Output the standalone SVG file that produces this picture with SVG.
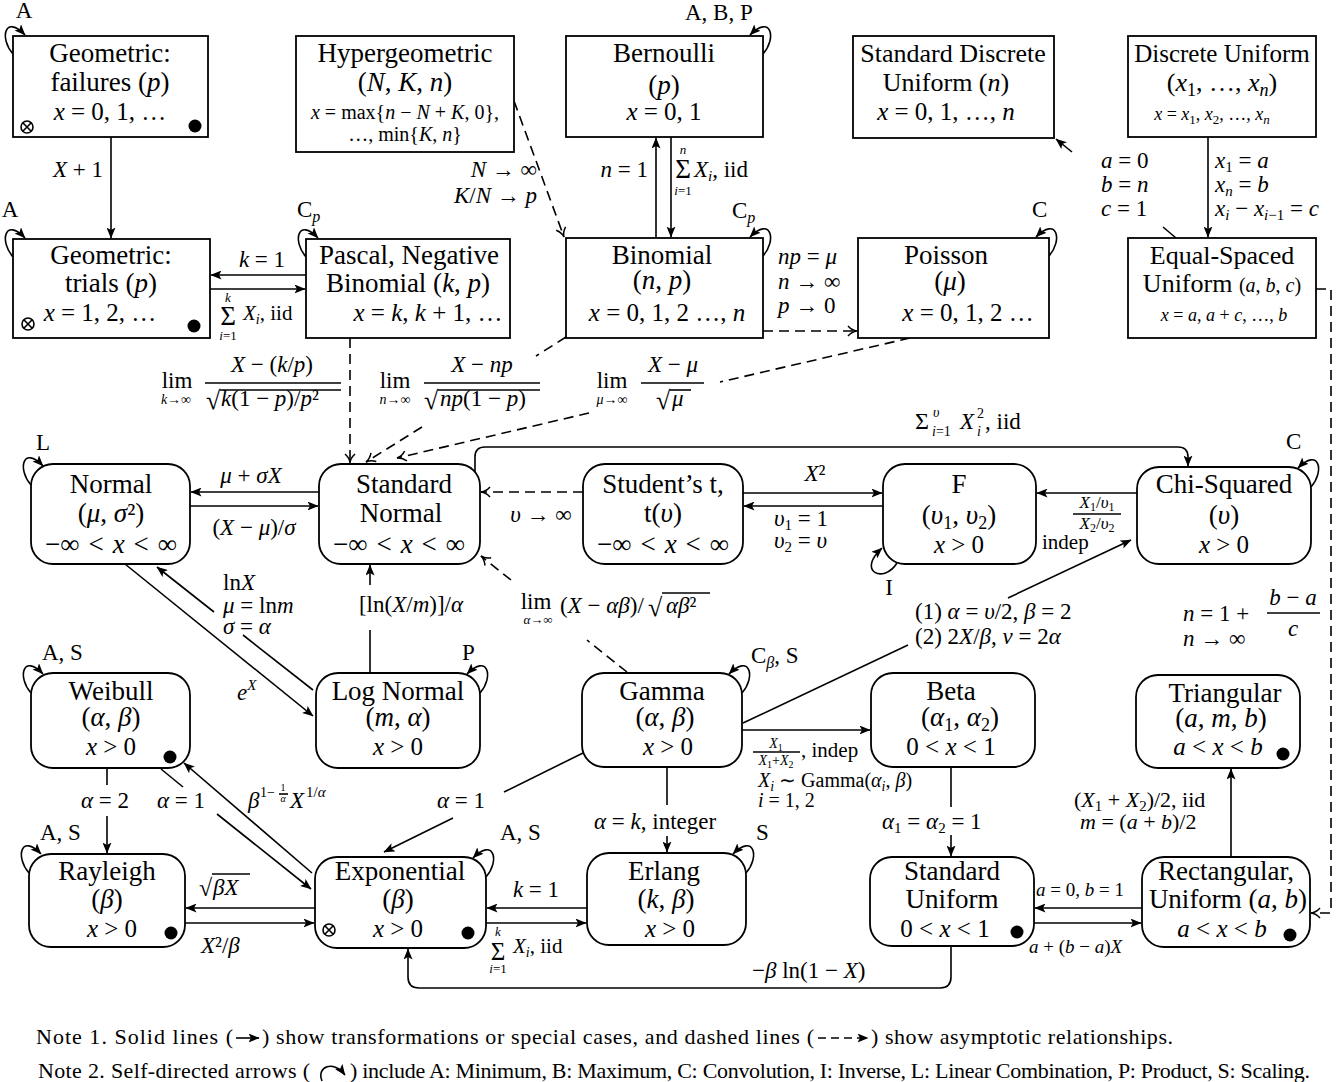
<svg xmlns="http://www.w3.org/2000/svg" width="1344" height="1082" viewBox="0 0 1344 1082">
<defs>
<style>
text{font-family:'Liberation Serif','Times New Roman',serif;fill:#000}
.t{font-size:27px;text-anchor:middle}
.t26{font-size:26px;text-anchor:middle}
.m{font-size:25px;text-anchor:middle}
.s{font-size:18px;text-anchor:middle}
.e{font-size:23px}
.c{text-anchor:middle}
.r{text-anchor:end}
.i{font-style:italic}
.n{font-size:22px}
.box{fill:#fff;stroke:#000;stroke-width:1.8}
.ln{fill:none;stroke:#000;stroke-width:1.6}
.ds{stroke-dasharray:10 6}
.a{marker-end:url(#ah)}
.o{marker-end:url(#oh)}
</style>
<marker id="ah" viewBox="0 0 11 9" markerWidth="11" markerHeight="9" refX="10.5" refY="4.5" orient="auto" markerUnits="userSpaceOnUse"><path d="M0,0 L11,4.5 L0,9 L2.5,4.5 Z" fill="#000"/></marker>
<marker id="oh" viewBox="-1 -1 12 12" markerWidth="12" markerHeight="12" refX="9" refY="5" orient="auto" markerUnits="userSpaceOnUse"><path d="M0,0 Q4,4.5 9,5 Q4,5.5 0,10" fill="none" stroke="#000" stroke-width="1.5"/></marker>
<g id="ot"><circle r="6" fill="none" stroke="#000" stroke-width="1.6"/><path d="M-4.2,-4.2 L4.2,4.2 M-4.2,4.2 L4.2,-4.2" stroke="#000" stroke-width="1.6"/></g>
<circle id="dot" r="6.5" fill="#000"/>
<path id="lTL" d="M0,18 C-14,2 -8,-22 12,-1" fill="none" stroke="#000" stroke-width="1.6" marker-end="url(#ah)"/>
<path id="lTR" d="M0,18 C14,2 8,-22 -13,-1" fill="none" stroke="#000" stroke-width="1.6" marker-end="url(#ah)"/>
</defs>
<rect width="1344" height="1082" fill="#fff"/>

<g id="connectors">
<path class="ln a" d="M111,137 V238"/>
<path class="ln ds o" d="M514,101 L564,237"/>
<path class="ln a" d="M306,275 H211"/>
<path class="ln a" d="M210,289 H305"/>
<path class="ln a" d="M656,238 V138"/>
<path class="ln a" d="M671,137 V237"/>
<path class="ln ds o" d="M763,331 H857"/>
<path class="ln a" d="M1208,137 V237"/>
<path class="ln" d="M1176,238 L1163,227"/>
<path class="ln a" d="M1072,152 L1056,139"/>
<path class="ln ds o" d="M1316,289 H1331 V913 H1311"/>
<path class="ln ds o" d="M350,338 V463"/>
<path class="ln ds" d="M566,337 L536,356"/>
<path class="ln ds o" d="M422,427 L366,462"/>
<path class="ln ds" d="M910,338 L720,382"/>
<path class="ln ds o" d="M589,413 L397,458"/>
<path class="ln a" d="M319,492 H191"/>
<path class="ln a" d="M190,506 H318"/>
<path class="ln ds o" d="M583,492 H481"/>
<path class="ln a" d="M743,493 H882"/>
<path class="ln a" d="M883,506 H744"/>
<path class="ln a" d="M1137,493 H1037"/>
<path class="ln a" d="M475,472 V457 Q475,447 485,447 H1178 Q1188,447 1188,457 V466"/>
<path class="ln" d="M743,723 L908,645"/>
<path class="ln a" d="M1008,598 L1131,540"/>
<path class="ln a" d="M742,730 H870"/>
<path class="ln ds" d="M627,672 L587,640"/>
<path class="ln ds o" d="M511,580 L481,556"/>
<path class="ln" d="M370,673 V630"/>
<path class="ln a" d="M370,585 V565"/>
<path class="ln a" d="M125,564 L313,716"/>
<path class="ln" d="M313,690 L243,635"/>
<path class="ln a" d="M214,612 L157,567"/>
<path class="ln a" d="M312,873 L184,763"/>
<path class="ln" d="M161,769 L183,787"/>
<path class="ln a" d="M217,814 L311,889"/>
<path class="ln" d="M107,768 V785"/>
<path class="ln a" d="M107,816 V853"/>
<path class="ln a" d="M315,908 H186"/>
<path class="ln a" d="M185,923 H314"/>
<path class="ln" d="M583,753 L504,792"/>
<path class="ln a" d="M453,818 L384,852"/>
<path class="ln" d="M667,767 V805"/>
<path class="ln a" d="M667,836 V852"/>
<path class="ln a" d="M587,908 H487"/>
<path class="ln a" d="M486,923 H586"/>
<path class="ln a" d="M951,946 V977 Q951,988 940,988 H419 Q408,988 408,977 V949"/>
<path class="ln" d="M951,767 V807"/>
<path class="ln a" d="M951,835 V856"/>
<path class="ln a" d="M1142,908 H1035"/>
<path class="ln a" d="M1034,923 H1141"/>
<path class="ln a" d="M1231,857 V769"/>
<use href="#lTL" x="13" y="36"/>
<use href="#lTL" x="13" y="239"/>
<use href="#lTL" x="306" y="239"/>
<use href="#lTL" x="31" y="467"/>
<use href="#lTL" x="31" y="675"/>
<use href="#lTL" x="29" y="855"/>
<use href="#lTR" x="763" y="36"/>
<use href="#lTR" x="763" y="238"/>
<use href="#lTR" x="1049" y="238"/>
<use href="#lTR" x="1311" y="469"/>
<use href="#lTR" x="480" y="675"/>
<use href="#lTR" x="742" y="675"/>
<use href="#lTR" x="486" y="859"/>
<use href="#lTR" x="746" y="855"/>
<path class="ln a" d="M897,563 C884,584 856,572 882,548"/>

<text class="e c" x="24" y="18">A</text>
<text class="e c" x="10" y="217">A</text>
<text class="e" x="297" y="217">C<tspan class="i" font-size="16" dy="5">p</tspan></text>
<text class="e" x="685" y="20">A, B, P</text>
<text class="e" x="732" y="218">C<tspan class="i" font-size="16" dy="5">p</tspan></text>
<text class="e" x="1032" y="217">C</text>
<text class="e" x="1286" y="449">C</text>
<text class="e" x="36" y="450">L</text>
<text class="e" x="42" y="660">A, S</text>
<text class="e" x="40" y="840">A, S</text>
<text class="e" x="462" y="660">P</text>
<text class="e" x="500" y="840">A, S</text>
<text class="e" x="756" y="840">S</text>
<text class="e" x="751" y="663">C<tspan class="i" font-size="16" dy="5">β</tspan><tspan dy="-5">, S</tspan></text>
<text class="e c" x="889" y="595">I</text>

<text class="e c" x="78" y="177"><tspan class="i">X</tspan> + 1</text>
<text class="e r" x="537" y="177"><tspan class="i">N</tspan> → ∞</text>
<text class="e r" x="537" y="203"><tspan class="i">K</tspan>/<tspan class="i">N</tspan> → <tspan class="i">p</tspan></text>
<text class="e c" x="262" y="267"><tspan class="i">k</tspan> = 1</text>
<text class="c" x="228" y="325" font-size="27">Σ</text>
<text class="c i" x="228" y="302" font-size="13">k</text>
<text class="c" x="228" y="340" font-size="13"><tspan class="i">i</tspan>=1</text>
<text x="243" y="320" font-size="21"><tspan class="i">X</tspan><tspan class="i" font-size="14" dy="4">i</tspan><tspan dy="-4">, iid</tspan></text>
<text class="e r" x="648" y="177"><tspan class="i">n</tspan> = 1</text>
<text class="c" x="683" y="178" font-size="27">Σ</text>
<text class="c i" x="683" y="154" font-size="13">n</text>
<text class="c" x="683" y="195" font-size="13"><tspan class="i">i</tspan>=1</text>
<text class="e" x="694" y="177"><tspan class="i">X</tspan><tspan class="i" font-size="15" dy="4">i</tspan><tspan dy="-4">,  iid</tspan></text>
<text class="e" x="778" y="264"><tspan class="i">np</tspan> = <tspan class="i">μ</tspan></text>
<text class="e" x="778" y="289"><tspan class="i">n</tspan> → ∞</text>
<text class="e" x="778" y="313"><tspan class="i">p</tspan> → 0</text>
<text class="e" x="1215" y="168"><tspan class="i">x</tspan><tspan font-size="15" dy="4">1</tspan><tspan dy="-4"> = </tspan><tspan class="i">a</tspan></text>
<text class="e" x="1215" y="192"><tspan class="i">x</tspan><tspan class="i" font-size="15" dy="4">n</tspan><tspan dy="-4"> = </tspan><tspan class="i">b</tspan></text>
<text class="e" x="1215" y="216"><tspan class="i">x</tspan><tspan class="i" font-size="15" dy="4">i</tspan><tspan dy="-4"> − </tspan><tspan class="i">x</tspan><tspan font-size="15" dy="4"><tspan class="i">i</tspan>−1</tspan><tspan dy="-4"> = </tspan><tspan class="i">c</tspan></text>
<text class="e" x="1101" y="168"><tspan class="i">a</tspan> = 0</text>
<text class="e" x="1101" y="192"><tspan class="i">b</tspan> = <tspan class="i">n</tspan></text>
<text class="e" x="1101" y="216"><tspan class="i">c</tspan> = 1</text>

<text class="e c" x="177" y="388">lim</text>
<text class="c" x="176" y="404" font-size="14"><tspan class="i">k</tspan>→∞</text>
<text class="e c" x="272" y="372"><tspan class="i">X</tspan> − (<tspan class="i">k</tspan>/<tspan class="i">p</tspan>)</text>
<path class="ln" d="M205,383 H341" stroke-width="1.3"/>
<text x="206" y="409" font-size="26">√</text>
<path class="ln" d="M220,390 H341" stroke-width="1.2"/>
<text class="e" x="221" y="406"><tspan class="i">k</tspan>(1 − <tspan class="i">p</tspan>)/<tspan class="i">p</tspan>²</text>
<text class="e c" x="395" y="388">lim</text>
<text class="c" x="395" y="404" font-size="14"><tspan class="i">n</tspan>→∞</text>
<text class="e c" x="482" y="372"><tspan class="i">X</tspan> − <tspan class="i">np</tspan></text>
<path class="ln" d="M424,383 H540" stroke-width="1.3"/>
<text x="424" y="409" font-size="26">√</text>
<path class="ln" d="M438,390 H540" stroke-width="1.2"/>
<text class="e" x="440" y="406"><tspan class="i">np</tspan>(1 − <tspan class="i">p</tspan>)</text>
<text class="e c" x="612" y="388">lim</text>
<text class="c" x="612" y="404" font-size="14"><tspan class="i">μ</tspan>→∞</text>
<text class="e c" x="673" y="372"><tspan class="i">X</tspan> − <tspan class="i">μ</tspan></text>
<path class="ln" d="M641,383 H704" stroke-width="1.3"/>
<text x="656" y="409" font-size="26">√</text>
<path class="ln" d="M670,390 H691" stroke-width="1.2"/>
<text class="e i" x="672" y="406">μ</text>

<text class="e c" x="251" y="483"><tspan class="i">μ</tspan> + <tspan class="i">σX</tspan></text>
<text class="e c" x="254" y="535">(<tspan class="i">X</tspan> − <tspan class="i">μ</tspan>)/<tspan class="i">σ</tspan></text>
<text class="e c" x="541" y="522"><tspan class="i">υ</tspan> → ∞</text>
<text class="e c" x="815" y="481"><tspan class="i">X</tspan>²</text>
<text class="e" x="774" y="526"><tspan class="i">υ</tspan><tspan font-size="15" dy="4">1</tspan><tspan dy="-4"> = 1</tspan></text>
<text class="e" x="774" y="548"><tspan class="i">υ</tspan><tspan font-size="15" dy="4">2</tspan><tspan dy="-4"> = </tspan><tspan class="i">υ</tspan></text>
<text class="c" x="1097" y="508" font-size="17"><tspan class="i">X</tspan><tspan font-size="12" dy="3">1</tspan><tspan dy="-3">/</tspan><tspan class="i">υ</tspan><tspan font-size="12" dy="3">1</tspan></text>
<path class="ln" d="M1073,514 H1121" stroke-width="1.2"/>
<text class="c" x="1097" y="529" font-size="17"><tspan class="i">X</tspan><tspan font-size="12" dy="3">2</tspan><tspan dy="-3">/</tspan><tspan class="i">υ</tspan><tspan font-size="12" dy="3">2</tspan></text>
<text x="1042" y="549" font-size="21">indep</text>
<text x="915" y="429" font-size="24">Σ</text>
<text class="i" x="933" y="417" font-size="14">υ</text>
<text x="932" y="436" font-size="14"><tspan class="i">i</tspan>=1</text>
<text class="e i" x="960" y="429">X</text>
<text x="977" y="418" font-size="14">2</text>
<text class="i" x="977" y="436" font-size="14">i</text>
<text class="e" x="985" y="429">, iid</text>

<text class="e" x="223" y="590">ln<tspan class="i">X</tspan></text>
<text class="e" x="223" y="613"><tspan class="i">μ</tspan> = ln<tspan class="i">m</tspan></text>
<text class="e" x="223" y="634"><tspan class="i">σ</tspan> = <tspan class="i">α</tspan></text>
<text class="e" x="237" y="700"><tspan class="i">e</tspan><tspan class="i" font-size="15" dy="-10">X</tspan></text>
<text class="e c" x="411" y="612">[ln(<tspan class="i">X</tspan>/<tspan class="i">m</tspan>)]/<tspan class="i">α</tspan></text>
<text class="e c" x="536" y="609">lim</text>
<text class="c" x="538" y="624" font-size="13"><tspan class="i">α</tspan>→∞</text>
<text class="e" x="560" y="613">(<tspan class="i">X</tspan> − <tspan class="i">αβ</tspan>)/</text>
<text x="648" y="616" font-size="26">√</text>
<path class="ln" d="M662,593 H710" stroke-width="1.2"/>
<text class="e i" x="666" y="613">αβ<tspan font-style="normal">²</tspan></text>
<text class="e" x="915" y="619">(1) <tspan class="i">α</tspan> = <tspan class="i">υ</tspan>/2, <tspan class="i">β</tspan> = 2</text>
<text class="e" x="915" y="644">(2) 2<tspan class="i">X</tspan>/<tspan class="i">β</tspan>, <tspan class="i">ν</tspan> = 2<tspan class="i">α</tspan></text>
<text class="e" x="1183" y="621"><tspan class="i">n</tspan> = 1 +</text>
<text class="e c" x="1293" y="605"><tspan class="i">b</tspan> − <tspan class="i">a</tspan></text>
<path class="ln" d="M1267,613 H1320" stroke-width="1.3"/>
<text class="e c i" x="1293" y="636">c</text>
<text class="e" x="1183" y="646"><tspan class="i">n</tspan> → ∞</text>

<text class="e i" x="248" y="808">β</text>
<text x="260" y="797" font-size="14">1−</text>
<text class="c" x="283" y="791" font-size="10">1</text>
<path class="ln" d="M279,794 H288" stroke-width="0.9"/>
<text class="c i" x="283" y="802" font-size="10">α</text>
<text class="e i" x="290" y="808">X</text>
<text x="306" y="797" font-size="15">1/<tspan class="i">α</tspan></text>
<text class="e c" x="105" y="808"><tspan class="i">α</tspan> = 2</text>
<text class="e c" x="181" y="808"><tspan class="i">α</tspan> = 1</text>
<text class="e c" x="461" y="808"><tspan class="i">α</tspan> = 1</text>
<text class="e" x="594" y="829"><tspan class="i">α</tspan> = <tspan class="i">k</tspan>, integer</text>
<text class="c" x="776" y="748" font-size="14"><tspan class="i">X</tspan><tspan font-size="10" dy="3">1</tspan></text>
<path class="ln" d="M753,752 H800" stroke-width="1"/>
<text class="c" x="776" y="765" font-size="14"><tspan class="i">X</tspan><tspan font-size="10" dy="3">1</tspan><tspan dy="-3">+</tspan><tspan class="i">X</tspan><tspan font-size="10" dy="3">2</tspan></text>
<text x="801" y="757" font-size="21">, indep</text>
<text x="758" y="787" font-size="20"><tspan class="i">X</tspan><tspan class="i" font-size="14" dy="4">i</tspan><tspan dy="-4"> ∼ Gamma(</tspan><tspan class="i">α</tspan><tspan class="i" font-size="14" dy="4">i</tspan><tspan dy="-4">, </tspan><tspan class="i">β</tspan>)</text>
<text x="758" y="807" font-size="20"><tspan class="i">i</tspan> = 1, 2</text>
<text class="e" x="882" y="829"><tspan class="i">α</tspan><tspan font-size="15" dy="4">1</tspan><tspan dy="-4"> = </tspan><tspan class="i">α</tspan><tspan font-size="15" dy="4">2</tspan><tspan dy="-4"> = 1</tspan></text>
<text x="1074" y="807" font-size="22">(<tspan class="i">X</tspan><tspan font-size="15" dy="4">1</tspan><tspan dy="-4"> + </tspan><tspan class="i">X</tspan><tspan font-size="15" dy="4">2</tspan><tspan dy="-4">)/2, iid</tspan></text>
<text x="1080" y="829" font-size="22"><tspan class="i">m</tspan> = (<tspan class="i">a</tspan> + <tspan class="i">b</tspan>)/2</text>
<text x="1036" y="896" font-size="19"><tspan class="i">a</tspan> = 0, <tspan class="i">b</tspan> = 1</text>
<text x="1029" y="953" font-size="19"><tspan class="i">a</tspan> + (<tspan class="i">b</tspan> − <tspan class="i">a</tspan>)<tspan class="i">X</tspan></text>
<text x="199" y="896" font-size="24">√</text>
<path class="ln" d="M212,874 H250" stroke-width="1.2"/>
<text class="e i" x="213" y="895">βX</text>
<text class="e" x="201" y="953"><tspan class="i">X</tspan>²/<tspan class="i">β</tspan></text>
<text class="e c" x="536" y="897"><tspan class="i">k</tspan> = 1</text>
<text class="c" x="498" y="960" font-size="25">Σ</text>
<text class="c i" x="498" y="936" font-size="13">k</text>
<text class="c" x="498" y="973" font-size="13"><tspan class="i">i</tspan>=1</text>
<text x="513" y="953" font-size="21"><tspan class="i">X</tspan><tspan class="i" font-size="14" dy="4">i</tspan><tspan dy="-4">, iid</tspan></text>
<text class="e" x="752" y="978">−<tspan class="i">β</tspan> ln(1 − <tspan class="i">X</tspan>)</text>
</g>

<g id="nodes">
<g id="geometric-failures">
<rect class="box" x="13" y="36" width="195" height="101"/>
<text class="t" x="110" y="62">Geometric:</text>
<text class="t" x="110" y="91">failures (<tspan class="i">p</tspan>)</text>
<text class="m" x="110" y="120"><tspan class="i">x</tspan> = 0, 1, …</text>
<use href="#ot" x="27" y="127"/>
<use href="#dot" x="195" y="126"/>
</g>
<g id="hypergeometric">
<rect class="box" x="296" y="36" width="218" height="116"/>
<text class="t" x="405" y="62">Hypergeometric</text>
<text class="t" x="405" y="91">(<tspan class="i">N</tspan>, <tspan class="i">K</tspan>, <tspan class="i">n</tspan>)</text>
<text class="c" x="405" y="119" style="font-size:20px"><tspan class="i">x</tspan> = max{<tspan class="i">n</tspan> − <tspan class="i">N</tspan> + <tspan class="i">K</tspan>, 0},</text>
<text class="c" x="405" y="141" style="font-size:20px">…, min{<tspan class="i">K</tspan>, <tspan class="i">n</tspan>}</text>
</g>
<g id="bernoulli">
<rect class="box" x="566" y="36" width="197" height="101"/>
<text class="t" x="664" y="62">Bernoulli</text>
<text class="t" x="664" y="94">(<tspan class="i">p</tspan>)</text>
<text class="m" x="664" y="120"><tspan class="i">x</tspan> = 0, 1</text>
</g>
<g id="standard-discrete-uniform">
<rect class="box" x="853" y="36" width="201" height="102"/>
<text class="t26" x="953" y="62">Standard Discrete</text>
<text class="t26" x="946" y="91">Uniform (<tspan class="i">n</tspan>)</text>
<text class="m" x="946" y="120"><tspan class="i">x</tspan> = 0, 1, …, <tspan class="i">n</tspan></text>
</g>
<g id="discrete-uniform">
<rect class="box" x="1128" y="36" width="188" height="101"/>
<text class="c" x="1222" y="62" style="font-size:25px">Discrete Uniform</text>
<text class="t26" x="1222" y="91">(<tspan class="i">x</tspan><tspan font-size="18" dy="5">1</tspan><tspan dy="-5">, …, </tspan><tspan class="i">x</tspan><tspan class="i" font-size="18" dy="5">n</tspan><tspan dy="-5">)</tspan></text>
<text class="s" x="1212" y="120"><tspan class="i">x</tspan> = <tspan class="i">x</tspan><tspan font-size="13" dy="4">1</tspan><tspan dy="-4">, </tspan><tspan class="i">x</tspan><tspan font-size="13" dy="4">2</tspan><tspan dy="-4">, …, </tspan><tspan class="i">x</tspan><tspan class="i" font-size="13" dy="4">n</tspan></text>
</g>
<g id="geometric-trials">
<rect class="box" x="13" y="239" width="197" height="99"/>
<text class="t" x="111" y="264">Geometric:</text>
<text class="t" x="111" y="292">trials (<tspan class="i">p</tspan>)</text>
<text class="m" x="100" y="321"><tspan class="i">x</tspan> = 1, 2, …</text>
<use href="#ot" x="28" y="324"/>
<use href="#dot" x="194" y="326"/>
</g>
<g id="pascal">
<rect class="box" x="306" y="239" width="204" height="99"/>
<text class="t" x="409" y="264">Pascal, Negative</text>
<text class="t" x="408" y="292">Binomial (<tspan class="i">k</tspan>, <tspan class="i">p</tspan>)</text>
<text class="m" x="428" y="321"><tspan class="i">x</tspan> = <tspan class="i">k</tspan>, <tspan class="i">k</tspan> + 1, …</text>
</g>
<g id="binomial">
<rect class="box" x="566" y="238" width="197" height="100"/>
<text class="t" x="662" y="264">Binomial</text>
<text class="t" x="662" y="289">(<tspan class="i">n</tspan>, <tspan class="i">p</tspan>)</text>
<text class="m" x="667" y="321"><tspan class="i">x</tspan> = 0, 1, 2 …, <tspan class="i">n</tspan></text>
</g>
<g id="poisson">
<rect class="box" x="858" y="238" width="191" height="100"/>
<text class="t" x="946" y="264">Poisson</text>
<text class="t" x="950" y="290">(<tspan class="i">μ</tspan>)</text>
<text class="m" x="968" y="321"><tspan class="i">x</tspan> = 0, 1, 2 …</text>
</g>
<g id="equal-spaced-uniform">
<rect class="box" x="1128" y="238" width="188" height="100"/>
<text class="t26" x="1222" y="264">Equal-Spaced</text>
<text class="t26" x="1222" y="292">Uniform <tspan font-size="20">(<tspan class="i">a</tspan>, <tspan class="i">b</tspan>, <tspan class="i">c</tspan>)</tspan></text>
<text class="s" x="1224" y="321"><tspan class="i">x</tspan> = <tspan class="i">a</tspan>, <tspan class="i">a</tspan> + <tspan class="i">c</tspan>, …, <tspan class="i">b</tspan></text>
</g>
<g id="normal">
<rect class="box" x="31" y="464" width="159" height="100" rx="22"/>
<text class="t" x="111" y="493">Normal</text>
<text class="t" x="111" y="522">(<tspan class="i">μ</tspan>, <tspan class="i">σ</tspan>²)</text>
<text class="t" x="111" y="553">−∞&#8196;&lt;&#8196;<tspan class="i">x</tspan>&#8196;&lt;&#8196;∞</text>
</g>
<g id="standard-normal">
<rect class="box" x="319" y="464" width="161" height="100" rx="22"/>
<text class="t" x="404" y="493">Standard</text>
<text class="t" x="401" y="522">Normal</text>
<text class="t" x="399" y="553">−∞&#8196;&lt;&#8196;<tspan class="i">x</tspan>&#8196;&lt;&#8196;∞</text>
</g>
<g id="students-t">
<rect class="box" x="583" y="464" width="160" height="100" rx="22"/>
<text class="t" x="663" y="493">Student’s t,</text>
<text class="t" x="663" y="522">t(<tspan class="i">υ</tspan>)</text>
<text class="t" x="663" y="553">−∞&#8196;&lt;&#8196;<tspan class="i">x</tspan>&#8196;&lt;&#8196;∞</text>
</g>
<g id="f">
<rect class="box" x="883" y="464" width="153" height="100" rx="22"/>
<text class="t" x="959" y="493">F</text>
<text class="t" x="959" y="524">(<tspan class="i">υ</tspan><tspan font-size="18" dy="5">1</tspan><tspan dy="-5">, </tspan><tspan class="i">υ</tspan><tspan font-size="18" dy="5">2</tspan><tspan dy="-5">)</tspan></text>
<text class="m" x="959" y="553"><tspan class="i">x</tspan> &gt; 0</text>
</g>
<g id="chi-squared">
<rect class="box" x="1137" y="467" width="174" height="97" rx="22"/>
<text class="t" x="1224" y="493">Chi-Squared</text>
<text class="t" x="1224" y="524">(<tspan class="i">υ</tspan>)</text>
<text class="m" x="1224" y="553"><tspan class="i">x</tspan> &gt; 0</text>
</g>
<g id="weibull">
<rect class="box" x="31" y="673" width="159" height="95" rx="22"/>
<text class="t" x="111" y="700">Weibull</text>
<text class="t" x="111" y="726">(<tspan class="i">α</tspan>, <tspan class="i">β</tspan>)</text>
<text class="m" x="111" y="755"><tspan class="i">x</tspan> &gt; 0</text>
<use href="#dot" x="170" y="757"/>
</g>
<g id="log-normal">
<rect class="box" x="316" y="673" width="164" height="95" rx="22"/>
<text class="t" x="398" y="700">Log Normal</text>
<text class="t" x="398" y="726">(<tspan class="i">m</tspan>, <tspan class="i">α</tspan>)</text>
<text class="m" x="398" y="755"><tspan class="i">x</tspan> &gt; 0</text>
</g>
<g id="gamma">
<rect class="box" x="582" y="673" width="160" height="94" rx="22"/>
<text class="t" x="662" y="700">Gamma</text>
<text class="t" x="665" y="726">(<tspan class="i">α</tspan>, <tspan class="i">β</tspan>)</text>
<text class="m" x="668" y="755"><tspan class="i">x</tspan> &gt; 0</text>
</g>
<g id="beta">
<rect class="box" x="871" y="673" width="164" height="94" rx="22"/>
<text class="t" x="951" y="700">Beta</text>
<text class="t" x="960" y="726">(<tspan class="i">α</tspan><tspan font-size="18" dy="5">1</tspan><tspan dy="-5">, </tspan><tspan class="i">α</tspan><tspan font-size="18" dy="5">2</tspan><tspan dy="-5">)</tspan></text>
<text class="m" x="951" y="755">0 &lt; <tspan class="i">x</tspan> &lt; 1</text>
</g>
<g id="triangular">
<rect class="box" x="1136" y="675" width="164" height="93" rx="22"/>
<text class="t" x="1225" y="702">Triangular</text>
<text class="t" x="1221" y="727">(<tspan class="i">a</tspan>, <tspan class="i">m</tspan>, <tspan class="i">b</tspan>)</text>
<text class="m" x="1218" y="755"><tspan class="i">a</tspan> &lt; <tspan class="i">x</tspan> &lt; <tspan class="i">b</tspan></text>
<use href="#dot" x="1283" y="754"/>
</g>
<g id="rayleigh">
<rect class="box" x="29" y="854" width="156" height="93" rx="22"/>
<text class="t" x="107" y="880">Rayleigh</text>
<text class="t" x="107" y="908">(<tspan class="i">β</tspan>)</text>
<text class="m" x="112" y="937"><tspan class="i">x</tspan> &gt; 0</text>
<use href="#dot" x="171" y="933"/>
</g>
<g id="exponential">
<rect class="box" x="315" y="857" width="171" height="91" rx="22"/>
<text class="t" x="400" y="880">Exponential</text>
<text class="t" x="398" y="908">(<tspan class="i">β</tspan>)</text>
<text class="m" x="398" y="937"><tspan class="i">x</tspan> &gt; 0</text>
<use href="#ot" x="329" y="930"/>
<use href="#dot" x="468" y="933"/>
</g>
<g id="erlang">
<rect class="box" x="587" y="853" width="159" height="92" rx="22"/>
<text class="t" x="664" y="880">Erlang</text>
<text class="t" x="666" y="908">(<tspan class="i">k</tspan>, <tspan class="i">β</tspan>)</text>
<text class="m" x="670" y="937"><tspan class="i">x</tspan> &gt; 0</text>
</g>
<g id="standard-uniform">
<rect class="box" x="870" y="857" width="164" height="89" rx="22"/>
<text class="t" x="952" y="880">Standard</text>
<text class="t" x="952" y="908">Uniform</text>
<text class="m" x="945" y="937">0 &lt; <tspan class="i">x</tspan> &lt; 1</text>
<use href="#dot" x="1017" y="932"/>
</g>
<g id="rectangular">
<rect class="box" x="1142" y="857" width="168" height="90" rx="22"/>
<text class="t" x="1226" y="880">Rectangular,</text>
<text class="t" x="1228" y="908">Uniform (<tspan class="i">a</tspan>, <tspan class="i">b</tspan>)</text>
<text class="m" x="1222" y="937"><tspan class="i">a</tspan> &lt; <tspan class="i">x</tspan> &lt; <tspan class="i">b</tspan></text>
<use href="#dot" x="1290" y="935"/>
</g>
</g>

<g id="notes">
<text class="n" x="36" y="1044" textLength="197">Note 1. Solid lines (</text>
<path class="ln a" d="M236,1038 H259" stroke-width="1.5"/>
<text class="n" x="262" y="1044" textLength="552">) show transformations or special cases, and dashed lines (</text>
<path class="ln a" d="M818,1038 H868" stroke-width="1.5" stroke-dasharray="8 5"/>
<text class="n" x="871" y="1044" textLength="302">) show asymptotic relationships.</text>
<text class="n" x="38" y="1078" textLength="272">Note 2. Self-directed arrows (</text>
<path class="ln a" d="M322,1081 C316,1066 334,1060 345,1075" stroke-width="1.5"/>
<text class="n" x="350" y="1078" textLength="960">) include A: Minimum, B: Maximum, C: Convolution, I: Inverse, L: Linear Combination, P: Product, S: Scaling.</text>
</g>
</svg>
